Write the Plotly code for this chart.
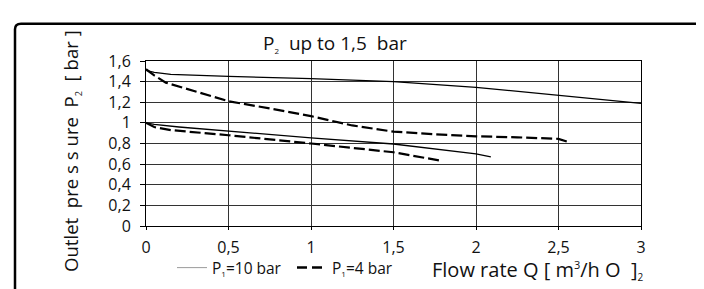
import plotly.graph_objects as go

# ---- data ----
q_10_15 = [0, 0.05, 0.15, 0.5, 1.0, 1.5, 2.0, 2.5, 3.0]
p_10_15 = [1.51, 1.49, 1.47, 1.45, 1.43, 1.40, 1.345, 1.27, 1.19]

q_4_15 = [0, 0.05, 0.12, 0.25, 0.5, 0.75, 1.0, 1.25, 1.4, 1.5, 1.75, 2.0, 2.25, 2.5, 2.57]
p_4_15 = [1.52, 1.46, 1.39, 1.33, 1.21, 1.14, 1.065, 0.975, 0.935, 0.915, 0.89, 0.87, 0.86, 0.845, 0.81]

q_10_10 = [0, 0.05, 0.2, 0.5, 1.0, 1.5, 2.0, 2.09]
p_10_10 = [1.0, 0.985, 0.96, 0.92, 0.855, 0.795, 0.70, 0.67]

q_4_10 = [0, 0.05, 0.15, 0.5, 1.0, 1.25, 1.5, 1.78]
p_4_10 = [1.0, 0.96, 0.93, 0.88, 0.80, 0.76, 0.715, 0.635]

x_ticks = [0, 0.5, 1, 1.5, 2, 2.5, 3]
y_ticks = [0, 0.2, 0.4, 0.6, 0.8, 1.0, 1.2, 1.4, 1.6]

FONT = "Open Sans"
W, H = 704, 289
L, R, T, B = 138, 633, 52.5, 233

def px(xp):
    return (xp - L) / (R - L)

def py(yp):
    return (B - yp) / (B - T)

def sub(t, size=8):
    return f"<sub><span style='font-size:{size}px'>{t}</span></sub>"

fig = go.Figure()
solid = dict(color="black", width=1.3)
dashed = dict(color="black", width=2.2, dash="11px,4px")
fig.add_trace(go.Scatter(x=q_10_15, y=p_10_15, mode="lines", line=solid, showlegend=False))
fig.add_trace(go.Scatter(x=q_10_10, y=p_10_10, mode="lines", line=solid, showlegend=False))
fig.add_trace(go.Scatter(x=q_4_15, y=p_4_15, mode="lines", line=dashed, showlegend=False))
fig.add_trace(go.Scatter(x=q_4_10, y=p_4_10, mode="lines", line=dashed, showlegend=False))

# legend entries
fig.add_trace(go.Scatter(x=[None], y=[None], mode="lines", name="P" + sub("1") + "=10 bar",
                         line=dict(color="#9a9a9a", width=1), legend="legend"))
fig.add_trace(go.Scatter(x=[None], y=[None], mode="lines", name="P" + sub("1") + "=4 bar",
                         line=dict(color="black", width=2.5, dash="10px,5px"), legend="legend2"))

axis_common = dict(showgrid=True, gridcolor="#333", gridwidth=1, showline=True,
                   linecolor="black", linewidth=1, mirror=True, zeroline=False,
                   ticks="outside", tickcolor="black",
                   tickfont=dict(family=FONT, size=16, color="#111"))
fig.update_xaxes(range=[0, 3], tickvals=x_ticks, ticklen=3, ticklabelstandoff=4, **axis_common)
fig.update_yaxes(range=[0, 1.6], tickvals=y_ticks, ticklen=5, ticklabelstandoff=6, **axis_common)

# rounded outer frame (extends past the right and bottom edges)
x0, y0 = px(7), py(11.7)
x1, y1 = px(730), py(310)
rx, ry = 6 / (R - L), 6 / (B - T)
path = (f"M {x0},{y1} L {x0},{y0 - ry} Q {x0},{y0} {x0 + rx},{y0} "
        f"L {x1},{y0} L {x1},{y1} Z")
fig.add_shape(type="path", path=path, xref="paper", yref="paper",
              line=dict(color="black", width=2.5), fillcolor="rgba(0,0,0,0)")

fig.add_annotation(text="P" + sub("2", 8) + "  up to 1,5  bar", x=px(327), y=py(33),
                   xref="paper", yref="paper", showarrow=False, xanchor="center", yanchor="middle",
                   font=dict(family=FONT, size=19, color="#111"))
fig.add_annotation(text="Outlet  pre s s ure  P" + sub("2", 9) + "  [ bar ]", x=px(63), y=py(151),
                   xref="paper", yref="paper", showarrow=False, textangle=-90,
                   xanchor="center", yanchor="middle",
                   font=dict(family=FONT, size=18.6, color="#111"))
fig.add_annotation(text="Flow rate Q [ m<sup><span style='font-size:11px'>3</span></sup>/h O  ]" + sub("2", 10),
                   x=px(422), y=py(281.5),
                   xref="paper", yref="paper", showarrow=False, xanchor="left", yanchor="middle",
                   font=dict(family=FONT, size=20, color="#111"))

fig.update_layout(
    width=W, height=H,
    margin=dict(l=L, r=W - R, t=T, b=H - B),
    paper_bgcolor="white", plot_bgcolor="white",
    separators=", ",
    font=dict(family=FONT, size=15, color="#111"),
    legend=dict(orientation="h", x=px(164), y=py(279), xanchor="left", yanchor="middle",
                font=dict(family=FONT, size=15.5, color="#111"), bgcolor="rgba(0,0,0,0)"),
    legend2=dict(orientation="h", x=px(284), y=py(279), xanchor="left", yanchor="middle",
                 font=dict(family=FONT, size=15.5, color="#111"), bgcolor="rgba(0,0,0,0)"),
)

fig.write_html("out.html")
